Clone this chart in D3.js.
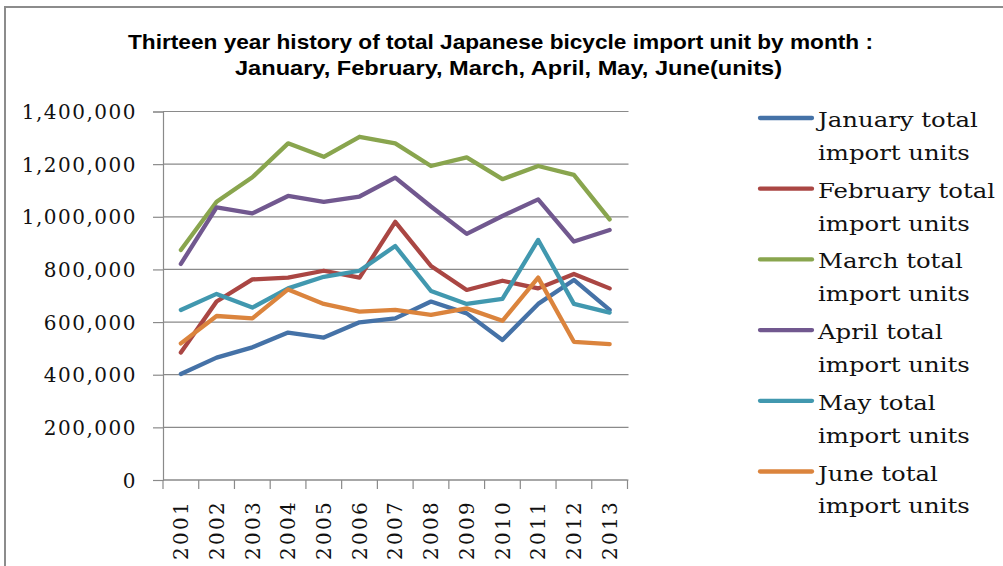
<!DOCTYPE html>
<html><head><meta charset="utf-8">
<script src="https://cdn.jsdelivr.net/npm/d3@7"></script>
<style>
html,body{margin:0;padding:0;background:#fff;}
svg{display:block;}
</style></head>
<body>
<svg id="chart" width="1003" height="566"></svg>
<script>
const years = ["2001","2002","2003","2004","2005","2006","2007","2008","2009","2010","2011","2012","2013"];
const seriesNames = ["January total import units","February total import units","March total import units","April total import units","May total import units","June total import units"];
const legendLine1 = ["January total","February total","March total","April total","May total","June total"];
const legendLine2 = ["import units","import units","import units","import units","import units","import units"];
const colors = ["#4572A7","#AA4643","#89A54E","#71588F","#4198AF","#DB843D"];
const january  = [403000,465000,504000,560000,541000,599000,614000,678000,633000,532000,669000,760000,646000];
const february = [484000,678000,762000,769000,795000,769000,981000,813000,722000,757000,728000,783000,728000];
const march    = [874000,1057000,1150000,1279000,1228000,1304000,1279000,1193000,1226000,1143000,1193000,1159000,990000];
const april    = [821000,1036000,1013000,1079000,1057000,1077000,1149000,1039000,935000,1003000,1066000,906000,950000];
const may      = [646000,707000,655000,728000,772000,795000,889000,718000,669000,688000,912000,669000,636000];
const june     = [519000,623000,614000,724000,669000,640000,646000,627000,652000,605000,769000,525000,516000];
const yTicks = [0,200000,400000,600000,800000,1000000,1200000,1400000];
const titleLines = ["Thirteen year history of total Japanese bicycle import unit by month :","January, February, March, April, May, June(units)"];

const allSeries = [january,february,march,april,may,june];
const svg = d3.select("#chart");

// border
svg.append("rect").attr("x",5).attr("y",7).attr("width",1010).attr("height",580)
  .attr("fill","none").attr("stroke","#8c8c8c").attr("stroke-width",2);

const pLeft=163, pRight=627.5, pTop=111.5, pBottom=480;
const x = d3.scaleBand().domain(years).range([pLeft,pRight]);
const y = d3.scaleLinear().domain([0,1400000]).range([pBottom,pTop]);

// gridlines
svg.append("g").selectAll("line").data(yTicks).join("line")
  .attr("x1",pLeft).attr("x2",pRight+1).attr("y1",d=>y(d)).attr("y2",d=>y(d))
  .attr("stroke","#8a8a8a").attr("stroke-width",1.2);

// y axis
const yAxis = d3.axisLeft(y).tickValues(yTicks).tickSize(10).tickPadding(16)
  .tickFormat(d3.format(","));
const gy = svg.append("g").attr("transform",`translate(${pLeft},0)`).call(yAxis);
gy.select(".domain").attr("stroke","#8a8a8a").attr("stroke-width",1.2);
gy.selectAll(".tick line").attr("stroke","#8a8a8a").attr("stroke-width",1.2);
gy.selectAll(".tick text").attr("font-family","'DejaVu Serif', serif").attr("font-size",20)
  .attr("fill","#111").attr("letter-spacing","1.5px").attr("dy","0.36em");

// x axis ticks at band edges
const edges = years.map(d=>x(d)).concat([pRight]);
svg.append("line").attr("x1",pLeft).attr("x2",pRight).attr("y1",pBottom).attr("y2",pBottom)
  .attr("stroke","#8a8a8a").attr("stroke-width",1.2);
svg.append("g").selectAll("line").data(edges).join("line")
  .attr("x1",d=>d).attr("x2",d=>d).attr("y1",pBottom).attr("y2",pBottom+9)
  .attr("stroke","#8a8a8a").attr("stroke-width",1.2);
svg.append("g").selectAll("text").data(years).join("text")
  .attr("transform",d=>`translate(${x(d)+x.bandwidth()/2},500) rotate(-90)`)
  .attr("text-anchor","end").attr("dy","0.36em")
  .attr("font-family","'DejaVu Serif', serif").attr("font-size",20).attr("fill","#111")
  .attr("letter-spacing","2.3px")
  .text(d=>d);

// lines
const line = d3.line().x((d,i)=>x(years[i])+x.bandwidth()/2).y(d=>y(d));
svg.append("g").selectAll("path").data(allSeries).join("path")
  .attr("d",d=>line(d)).attr("fill","none")
  .attr("stroke",(d,i)=>colors[i]).attr("stroke-width",4.3)
  .attr("stroke-linejoin","round").attr("stroke-linecap","round");

// title
const titleX=[128,235], titleY=[49,75], titleW=[745,547];
svg.append("g").selectAll("text").data(titleLines).join("text")
  .attr("x",(d,i)=>titleX[i]).attr("y",(d,i)=>titleY[i])
  .attr("textLength",(d,i)=>titleW[i]).attr("lengthAdjust","spacingAndGlyphs")
  .attr("font-family","'Liberation Sans Narrow','Liberation Sans',Arial,sans-serif")
  .attr("font-weight","bold").attr("font-size",21).attr("fill","#000")
  .text(d=>d);

// legend
const lg = svg.append("g");
const rowPitch = 70.7, base0 = 127;
seriesNames.forEach((n,i)=>{
  const b = base0 + i*rowPitch;
  lg.append("line").attr("x1",760).attr("x2",812).attr("y1",b-9).attr("y2",b-9)
    .attr("stroke",colors[i]).attr("stroke-width",4.3).attr("stroke-linecap","round");
  const t = lg.append("g").attr("transform",`translate(818,${b}) scale(1.16,1)`)
    .attr("font-family","'DejaVu Serif', serif").attr("font-size",21).attr("fill","#111");
  t.append("text").attr("x",0).attr("y",0).text(legendLine1[i]);
  t.append("text").attr("x",0).attr("y",33).text(legendLine2[i]);
});
</script>
</body></html>
